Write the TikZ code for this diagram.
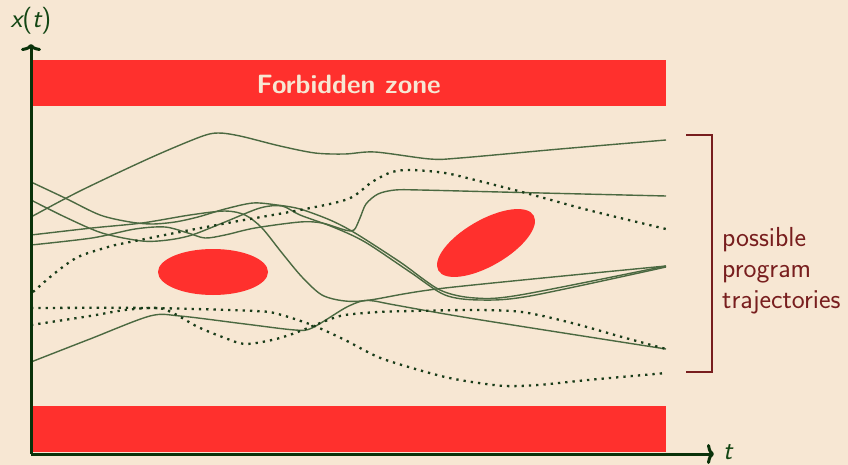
\documentclass[tikz,border=0pt]{standalone}
\usetikzlibrary{arrows.meta}
\definecolor{bg}{RGB}{247,231,211}
\definecolor{zonered}{RGB}{255,48,45}
\definecolor{axisgreen}{RGB}{10,50,10}
\definecolor{trajgreen}{RGB}{75,105,65}
\definecolor{dotgreen}{RGB}{25,60,25}
\definecolor{labelred}{RGB}{120,30,30}
\definecolor{labelgreen}{RGB}{20,70,20}
\tikzset{
  zone/.style={fill=zonered, draw=none},
  traj/.style={draw=trajgreen, line width=1.4pt},
  dottraj/.style={draw=dotgreen, line width=2.3pt, dash pattern=on 2.3pt off 5pt},
  axisline/.style={draw=axisgreen, line width=3pt, -{To[length=7pt,width=20pt]}},
  bracketline/.style={draw=labelred, line width=2pt},
  lbl/.style={font=\sffamily\fontsize{27.5}{31}\selectfont, text=labelred, align=left, inner sep=0pt},
  axlbl/.style={text=labelgreen, font=\sffamily\fontsize{27}{30}\selectfont, inner sep=0pt},
}
\begin{document}
\begin{tikzpicture}[x=1pt,y=-1pt]
\fill[bg] (0,0) rectangle (848,465);
\useasboundingbox (0,0) rectangle (848,465);
% forbidden zones
\node[zone, minimum width=635pt, minimum height=46pt, anchor=north west, inner sep=0pt] (topzone) at (31,60) {};
\node[font=\sffamily\bfseries\fontsize{26.5}{30}\selectfont, text=bg] (ztext) at ([yshift=-1pt]topzone.center) {Forbidden zone};
\node[zone, minimum width=635pt, minimum height=46pt, anchor=north west, inner sep=0pt] (botzone) at (31,406) {};
\fill[zonered] (213,272) ellipse [x radius=55pt, y radius=23pt];
\fill[zonered, rotate around={30:(486,243)}] (486,243) ellipse [x radius=55pt, y radius=23pt];
% solid trajectories
\draw[traj] plot[smooth, tension=0.5] coordinates {(31,217) (80,191) (150,158) (200,137) (218,133) (240,136) (280,146) (315,153) (345,154) (375,152) (430,159) (460,158) (560,149) (666,140)};
\draw[traj] plot[smooth, tension=0.5] coordinates {(31,245) (92,238) (135,229) (165,227) (188,233) (205,238) (225,235) (255,228) (300,222) (322,223) (345,230) (354,230) (360,218) (366,204) (378,194) (395,190) (420,190) (500,192) (666,196)};
\draw[traj] plot[smooth, tension=0.5] coordinates {(31,235) (92,228) (142,223) (190,215) (225,211) (245,215) (262,228) (282,253) (302,277) (322,295) (345,301) (370,300) (445,288) (666,266)};
\draw[traj] plot[smooth, tension=0.5] coordinates {(31,182) (65,198) (100,215) (130,222) (152,224) (175,222) (198,217) (225,209) (253,203) (277,205) (300,209) (330,220) (355,233) (400,262) (440,290) (475,298) (520,295) (666,266)};
\draw[traj] plot[smooth, tension=0.5] coordinates {(31,200) (65,217) (102,233) (142,241) (168,240) (192,235) (225,222) (260,208) (282,206) (300,215) (333,227) (365,242) (410,272) (445,295) (480,300) (530,296) (666,267)};
\draw[traj] plot[smooth, tension=0.5] coordinates {(31,362) (90,339) (150,316) (180,316) (245,324) (295,330) (312,328) (345,308) (362,301) (374,301) (395,305) (475,319) (666,349)};
% dotted trajectories
\draw[dottraj] plot[smooth, tension=0.5] coordinates {(33,292) (55,273) (78,257) (108,247) (125,243) (180,232) (233,222) (300,210) (348,199) (372,182) (392,172) (412,170) (445,173) (475,180) (522,192) (588,210) (666,229)};
\draw[dottraj] plot[smooth, tension=0.5] coordinates {(31,308) (150,308) (255,311) (278,314) (312,325) (345,340) (378,357) (412,368) (445,377) (472,382) (505,386) (538,385) (588,380) (666,373)};
\draw[dottraj] plot[smooth, tension=0.5] coordinates {(31,325) (90,316) (125,310) (158,308) (175,314) (198,327) (225,338) (245,344) (272,340) (295,333) (328,320) (345,315) (378,312) (412,311) (475,310) (522,312) (572,323) (622,337) (666,349)};
% axes
\coordinate (origin) at (31,454);
\coordinate (yend) at (31,44);
\coordinate (xend) at (714,454);
\draw[axisline] (origin) -- (yend);
\draw[axisline] (origin) -- (xend);
\node[axlbl] (ylabel) at (31,21) {\slshape x\upshape(\slshape t\upshape)};
\node[axlbl, anchor=west] (xlabel) at (723,452) {\slshape t};
% bracket
\coordinate (b1) at (686,135);
\coordinate (b2) at (712,135);
\coordinate (b3) at (712,372);
\coordinate (b4) at (686,372);
\draw[bracketline] (b1) -- (b2) -- (b3) -- (b4);
\node[lbl, anchor=west] (traj) at (722,271) {possible\\program\\trajectories};
\end{tikzpicture}
\end{document}
